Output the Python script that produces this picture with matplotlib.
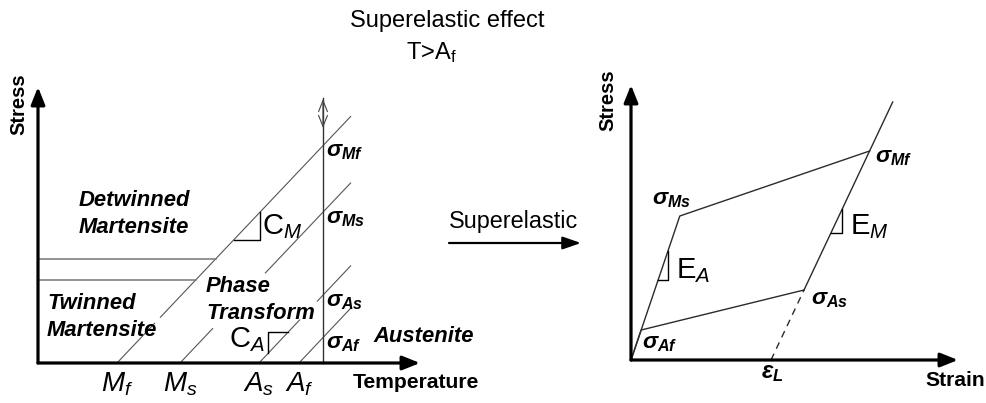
import numpy as np
import matplotlib
matplotlib.use('Agg')
import matplotlib.pyplot as plt

plt.rcParams['font.family'] = ['Liberation Sans', 'DejaVu Sans']
plt.rcParams['mathtext.fontset'] = 'custom'
plt.rcParams['mathtext.rm'] = 'Liberation Sans'
plt.rcParams['mathtext.it'] = 'Liberation Sans:italic'
plt.rcParams['mathtext.bf'] = 'Liberation Sans:bold:italic'

# --- phase diagram: temperature vs stress (schematic units) ---
trans_labels = [r'$\mathit{M_f}$', r'$\mathit{M_s}$', r'$\mathit{A_s}$', r'$\mathit{A_f}$']
sigma_left = [r'$\mathbf{\sigma_{Mf}}$', r'$\mathbf{\sigma_{Ms}}$',
              r'$\mathbf{\sigma_{As}}$', r'$\mathbf{\sigma_{Af}}$']
trans_temps = [79, 142, 221, 261]
trans_slopes = [1.055, 1.055, 1.06, 1.06]      # C_M, C_M, C_A, C_A
line_gaps = [[(117, 122)], [(175, 227)], [(262, 279)], []]
T_end = 313
T_test = 285
detwin_stress = [83, 104]

# --- superelastic loop: strain vs stress (schematic units) ---
E_A = 2.95
E_M = 2.12
eps_L = 140
sig_Ms, sig_Mf, sig_As, sig_Af = 144, 209, 70, 30
sig_top = 258

fig = plt.figure(figsize=(9.87, 4.03), dpi=100)
W, H = 987.0, 403.0

axL = fig.add_axes([38 / W, 40 / H, 400 / W, 330 / H])
axL.set_xlim(0, 400)
axL.set_ylim(0, 330)
axL.axis('off')

axR = fig.add_axes([631 / W, 43 / H, 340 / W, 290 / H])
axR.set_xlim(0, 340)
axR.set_ylim(0, 290)
axR.axis('off')


def axis_arrow(ax, tip):
    ax.annotate('', xy=tip, xytext=(0, 0), annotation_clip=False,
                arrowprops=dict(arrowstyle='-|>,head_length=1.05,head_width=0.42',
                                mutation_scale=10, lw=2.3, color='black',
                                shrinkA=0, shrinkB=0))


# left diagram axes
axis_arrow(axL, (382, 0))
axis_arrow(axL, (0, 276))

# transformation lines with their breaks around text
for temp, slope, gaps in zip(trans_temps, trans_slopes, line_gaps):
    bounds = [temp]
    for a, b in gaps:
        bounds += [a, b]
    bounds.append(T_end)
    for t0, t1 in zip(bounds[::2], bounds[1::2]):
        T = np.array([t0, t1])
        axL.plot(T, slope * (T - temp), color='#555555', lw=0.8,
                 solid_capstyle='butt', clip_on=False)

# detwinning stress levels up to the Mf line
for s in detwin_stress:
    axL.plot([0, trans_temps[0] + s / trans_slopes[0]], [s, s],
             color='#777777', lw=1.1, clip_on=False)

# test temperature line
axL.plot([T_test, T_test], [0, 265], color='#333333', lw=1.0, clip_on=False)
axL.annotate('', xy=(T_test, 264), xytext=(T_test, 235), annotation_clip=False,
             arrowprops=dict(arrowstyle='<->,head_length=0.8,head_width=0.32',
                             mutation_scale=10, lw=0.8, color='#444444',
                             shrinkA=0, shrinkB=0))

# slope triangles C_M and C_A
t1, t2 = 196, 222
s1 = trans_slopes[0] * (t1 - trans_temps[0])
s2 = trans_slopes[0] * (t2 - trans_temps[0])
axL.plot([t1, t2, t2], [s1, s1, s2], color='black', lw=1.0)
axL.text(t2 + 2, (s1 + s2) / 2 - 1, r'$\mathrm{C}_{\mathit{M}}$', fontsize=21,
         ha='left', va='center')

t1, t2 = 230, 250
s1 = trans_slopes[2] * (t1 - trans_temps[2])
s2 = trans_slopes[2] * (t2 - trans_temps[2])
axL.plot([t1, t1, t2], [s1, s2, s2], color='black', lw=1.0)
axL.text(t1 - 3, 23, r'$\mathrm{C}_{\mathit{A}}$', fontsize=21, ha='right', va='center')

# critical stresses at the test temperature
for lab, temp, slope in zip(sigma_left, trans_temps, trans_slopes):
    s = slope * (T_test - temp)
    axL.text(T_test + 3, s - 5, lab, fontsize=16.5, ha='left', va='center')

# temperature tick labels
for lab, temp in zip(trans_labels, trans_temps):
    axL.text(temp, -21, lab, fontsize=20, ha='center', va='center')

phase_kw = dict(fontsize=15.8, fontweight='bold', fontstyle='italic',
                ha='left', va='center', linespacing=1.32)
axL.text(41, 149, 'Detwinned\nMartensite', **phase_kw)
axL.text(9, 46, 'Twinned\nMartensite', **phase_kw)
axL.text(168, 63, 'Phase\nTransform', **phase_kw)
axL.text(335, 27, 'Austenite', **phase_kw)

axL.text(315, -20, 'Temperature', fontsize=15.2, fontweight='bold', ha='left', va='center')
axL.text(-19, 259, 'Stress', fontsize=14.5, fontweight='bold', rotation=90,
         ha='center', va='center')

# right diagram axes
axis_arrow(axR, (327, 0))
axis_arrow(axR, (0, 275))

e_Ms = sig_Ms / E_A
e_Af = sig_Af / E_A
e_Mf = eps_L + sig_Mf / E_M
e_As = eps_L + sig_As / E_M
e_top = eps_L + sig_top / E_M

line_kw = dict(color='#2b2b2b', lw=1.0, clip_on=False)
axR.plot([0, e_Ms, e_Mf], [0, sig_Ms, sig_Mf], **line_kw)
axR.plot([e_As, e_top], [sig_As, sig_top], **line_kw)
axR.plot([e_As, e_Af, 0], [sig_As, sig_Af, 0], **line_kw)
axR.plot([eps_L, e_As], [0, sig_As], color='#2b2b2b', lw=1.0,
         linestyle=(0, (5, 4)))

# modulus triangles
e1, e2 = 27, 37
axR.plot([e1, e2, e2], [E_A * e1, E_A * e1, E_A * e2], color='black', lw=1.0)
axR.text(e2 + 8, 89, r'$\mathrm{E}_{\mathit{A}}$', fontsize=21, ha='left', va='center')
e1, e2 = 200, 211
axR.plot([e1, e2, e2], [E_M * (e1 - eps_L)] * 2 + [E_M * (e2 - eps_L)],
         color='black', lw=1.0)
axR.text(e2 + 8, 133, r'$\mathrm{E}_{\mathit{M}}$', fontsize=21, ha='left', va='center')

sig_kw = dict(fontsize=16.5, ha='left', va='center')
axR.text(e_Ms - 28, sig_Ms + 18, r'$\mathbf{\sigma_{Ms}}$', **sig_kw)
axR.text(e_Mf + 5, sig_Mf - 6, r'$\mathbf{\sigma_{Mf}}$', **sig_kw)
axR.text(e_As + 7, sig_As - 8, r'$\mathbf{\sigma_{As}}$', **sig_kw)
axR.text(e_Af + 1, sig_Af - 13, r'$\mathbf{\sigma_{Af}}$', **sig_kw)
axR.text(eps_L + 1, -13, r'$\mathbf{\varepsilon_{L}}$', fontsize=17, ha='center', va='center')

axR.text(294, -20, 'Strain', fontsize=15.2, fontweight='bold', ha='left', va='center')
axR.text(-23, 260, 'Stress', fontsize=14.5, fontweight='bold', rotation=90,
         ha='center', va='center')

# titles and middle arrow
fig.text(447 / W, 1 - 21 / H, 'Superelastic effect', fontsize=17, ha='center', va='center')
fig.text(431 / W, 1 - 53 / H, r'T>$\mathrm{A_f}$', fontsize=17, ha='center', va='center')
fig.text(449 / W, 1 - 228 / H, 'Superelastic', fontsize=16.8, ha='left', va='baseline')
fig.add_artist(matplotlib.patches.FancyArrowPatch(
    (449, H - 243), (581, H - 243), transform=None,
    arrowstyle='-|>,head_length=1.1,head_width=0.38', mutation_scale=10,
    lw=1.6, color='black', shrinkA=0, shrinkB=0))

fig.savefig('out.png', dpi=100)
